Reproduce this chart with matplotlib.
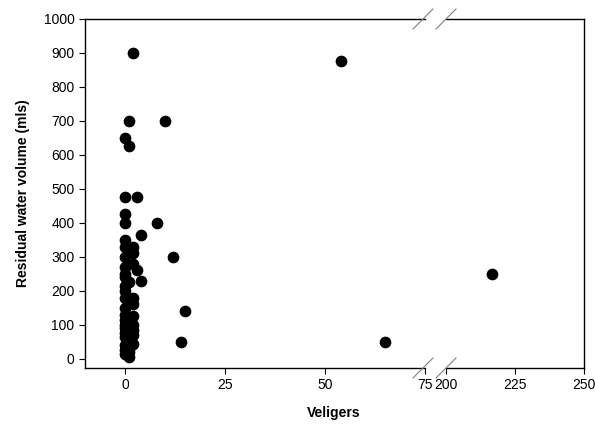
import matplotlib.pyplot as plt
from matplotlib.lines import Line2D

plt.rcParams['font.family'] = ['Liberation Sans', 'DejaVu Sans']

# Veligers vs residual water volume
veligers = [2, 1, 10, 0, 1, 0, 3, 0, 0, 8, 4, 0, 0, 2, 2, 0, 12, 2, 0,
            3, 0, 4, 1, 0, 0, 2, 2, 15, 0, 0, 2, 0, 2, 0, 2, 14, 0, 2,
            0, 1, 0, 0, 1, 0, 1, 0, 0, 2, 1, 0,
            54, 65, 216.5]
volume = [900, 700, 700, 650, 625, 475, 475, 425, 400, 400, 365, 350, 330, 330, 310, 300, 300, 280, 270,
          260, 250, 230, 225, 215, 200, 180, 160, 140, 180, 130, 125, 115, 100, 100, 85, 50, 65, 70,
          40, 60, 25, 15, 5, 150, 30, 75, 90, 45, 20, 240,
          875, 50, 250]

fig = plt.figure(figsize=(5.95, 4.24), dpi=100)
W, H = 595, 424
bottom = 1 - 368 / H
top = 1 - 19 / H
ax1 = fig.add_axes([85 / W, bottom, (425 - 85) / W, top - bottom])
ax2 = fig.add_axes([446 / W, bottom, (584 - 446) / W, top - bottom], sharey=ax1)

for ax in (ax1, ax2):
    ax.scatter(veligers, volume, s=55, color='black', zorder=3, clip_on=True)
    ax.tick_params(direction='out', length=4, labelsize=10, colors='black')
    for sp in ax.spines.values():
        sp.set_linewidth(1.0)

ax1.set_xlim(-10, 75)
ax2.set_xlim(200, 250)
ax1.set_ylim(-27, 1000)
ax1.set_xticks([0, 25, 50, 75])
ax2.set_xticks([200, 225, 250])
ax1.set_yticks(range(0, 1001, 100))
ax1.spines['right'].set_visible(False)
ax2.spines['left'].set_visible(False)
ax2.tick_params(axis='y', left=False, labelleft=False)

ax1.set_ylabel('Residual water volume (mls)', fontsize=10, fontweight='bold', labelpad=10)
fig.text(334 / W, 1 - 413 / H, 'Veligers', fontsize=10, fontweight='bold',
         ha='center', va='center')

# break marks
for xc in (423, 446):
    for yc in (368, 19):
        fig.add_artist(Line2D([(xc - 10) / W, (xc + 10) / W],
                              [1 - (yc + 10) / H, 1 - (yc - 10) / H],
                              transform=fig.transFigure, color='gray', lw=0.8))

fig.savefig('out.png', dpi=100)
